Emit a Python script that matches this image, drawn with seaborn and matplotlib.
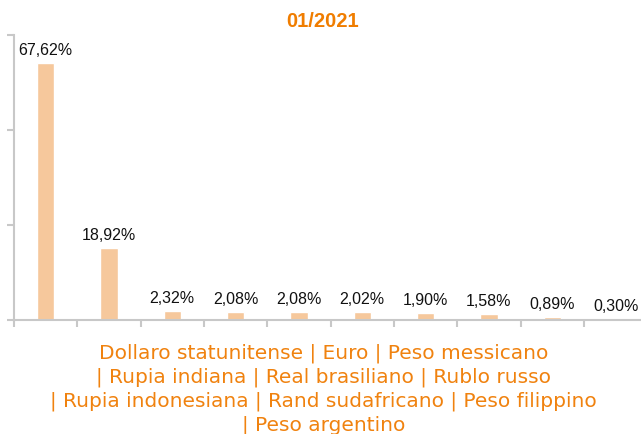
import numpy as np
import matplotlib.pyplot as plt
import seaborn as sns

currencies = ["Dollaro statunitense", "Euro", "Peso messicano", "Rupia indiana",
              "Real brasiliano", "Rublo russo", "Rupia indonesiana",
              "Rand sudafricano", "Peso filippino", "Peso argentino"]
shares = [67.62, 18.92, 2.32, 2.08, 2.08, 2.02, 1.90, 1.58, 0.89, 0.30]
title = "01/2021"

ORANGE = "#F0820F"
BAR = "#F6C89C"
GREY = "#C8C8C8"

sns.set_style("white")
plt.rcParams["font.family"] = ["Liberation Sans", "DejaVu Sans"]

fig = plt.figure(figsize=(6.41, 4.34), dpi=100)
ax = fig.add_axes([0.0218, 0.2627, 0.988, 0.657])

sns.barplot(x=currencies, y=shares, color=BAR, width=0.27, saturation=1, ax=ax)

for i, v in enumerate(shares):
    ax.annotate(f"{v:.2f}%".replace(".", ","), (i, v), xytext=(0, 3.5),
                textcoords="offset points", ha="center", va="bottom",
                fontsize=11.5, color="#111111")

ax.set_xlim(-0.5, 9.5)
ax.set_ylim(0, 75)
ax.set_yticks([0, 25, 50, 75])
ax.set_yticklabels([])
ax.set_xticks(np.arange(-0.5, 10, 1))
ax.set_xticklabels([])
ax.tick_params(axis="both", direction="out", length=5, width=1.5, color=GREY,
               left=True, bottom=True)
for s in ["top", "right"]:
    ax.spines[s].set_visible(False)
for s in ["left", "bottom"]:
    ax.spines[s].set_color(GREY)
    ax.spines[s].set_linewidth(1.5)

xlabel = ("Dollaro statunitense | Euro | Peso messicano\n"
          "| Rupia indiana | Real brasiliano | Rublo russo\n"
          "| Rupia indonesiana | Rand sudafricano | Peso filippino\n"
          "| Peso argentino")
fig.text(0.505, 0.208, xlabel, ha="center", va="top", fontsize=14.5,
         color=ORANGE, family="DejaVu Sans", linespacing=1.3)
fig.text(0.503, 0.95, title, ha="center", va="center", fontsize=14.5,
         fontweight="bold", color="#F07D00")

fig.savefig("out.png", dpi=100)
